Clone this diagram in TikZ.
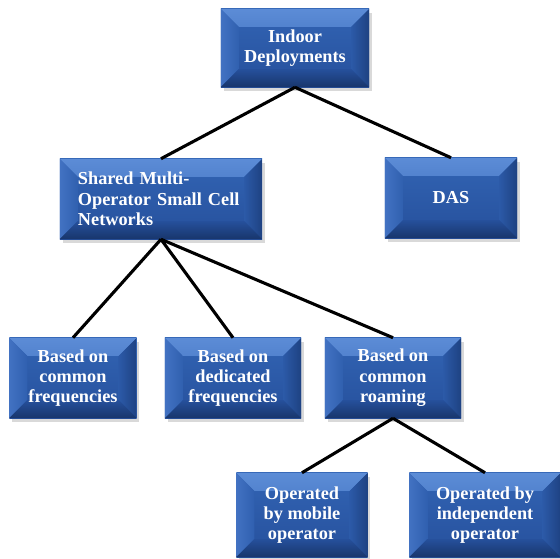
\documentclass[tikz,border=0pt]{standalone}
\usepackage{fontspec}
\setmainfont{Liberation Serif}
\usetikzlibrary{shadows}

\definecolor{facetop}{RGB}{50,100,180}
\definecolor{facebot}{RGB}{38,80,156}
\definecolor{bevtop}{RGB}{92,140,214}
\definecolor{bevleft}{RGB}{66,114,194}
\definecolor{bevright}{RGB}{30,66,130}
\definecolor{bevbot}{RGB}{24,54,108}

% bevel depth and bevel faces
\newcommand{\bw}{0.45cm}
\newcommand{\bevel}{%
  \shade[top color=bevtop, bottom color=facetop] (path picture bounding box.north west) -- (path picture bounding box.north east)
    -- ([shift={(-\bw,-\bw)}]path picture bounding box.north east) -- ([shift={(\bw,-\bw)}]path picture bounding box.north west) -- cycle;
  \shade[left color=bevleft, right color=facetop!80!facebot] (path picture bounding box.north west) -- (path picture bounding box.south west)
    -- ([shift={(\bw,\bw)}]path picture bounding box.south west) -- ([shift={(\bw,-\bw)}]path picture bounding box.north west) -- cycle;
  \shade[left color=facetop!50!facebot, right color=bevright] (path picture bounding box.north east) -- (path picture bounding box.south east)
    -- ([shift={(-\bw,\bw)}]path picture bounding box.south east) -- ([shift={(-\bw,-\bw)}]path picture bounding box.north east) -- cycle;
  \shade[top color=facebot, bottom color=bevbot] (path picture bounding box.south west) -- (path picture bounding box.south east)
    -- ([shift={(-\bw,\bw)}]path picture bounding box.south east) -- ([shift={(\bw,\bw)}]path picture bounding box.south west) -- cycle;
}

\tikzset{
  box/.style={rectangle, top color=facetop, bottom color=facebot, text=white,
    font=\bfseries\fontsize{13}{14.5}\selectfont, align=center, inner sep=2pt,
    drop shadow={opacity=0.3, shadow xshift=2pt, shadow yshift=-2.5pt},
    path picture={\bevel}},
  link/.style={line width=2.2pt, black},
}

\begin{document}
\begin{tikzpicture}[x=0.025cm, y=-0.025cm]
  \useasboundingbox (0,0) rectangle (559,559);

  % top level
  \node[box, minimum width=3.7cm, minimum height=1.95cm] (indoor) at (295,48) {Indoor\\Deployments};

  % second level
  \node[box, minimum width=5.05cm, minimum height=2cm, align=left, text width=4.15cm] (shared) at (161,199)
    {Shared Multi-\\Operator Small Cell\\Networks};
  \node[box, minimum width=3.3cm, minimum height=2cm] (das) at (451,198) {DAS};

  % third level
  \node[box, minimum width=3.18cm, minimum height=2cm] (freq) at (73,378) {Based on\\common\\frequencies};
  \node[box, minimum width=3.4cm, minimum height=2cm] (dedic) at (233,378) {Based on\\dedicated\\frequencies};
  \node[box, minimum width=3.4cm, minimum height=2cm] (roam) at (393,378) {Based on\\common\\roaming};

  % fourth level
  \node[box, minimum width=3.28cm, minimum height=2.1cm] (mobile) at (302,515) {Operated\\by mobile\\operator};
  \node[box, minimum width=3.78cm, minimum height=2.1cm] (indep) at (485,515) {Operated by\\independent\\operator};

  % connectors
  \draw[link] (indoor.south) -- (shared.north);
  \draw[link] (indoor.south) -- (das.north);
  \draw[link] (shared.south) -- (freq.north);
  \draw[link] (shared.south) -- (dedic.north);
  \draw[link] (shared.south) -- (roam.north);
  \draw[link] (roam.south) -- (mobile.north);
  \draw[link] (roam.south) -- (indep.north);
\end{tikzpicture}
\end{document}
